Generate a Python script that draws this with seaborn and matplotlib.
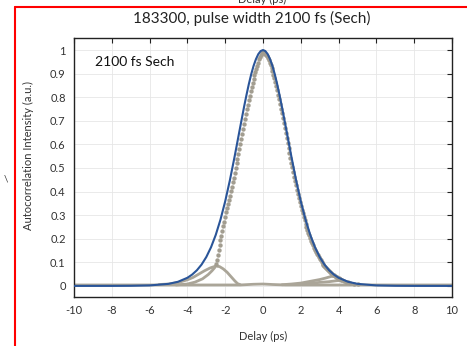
import matplotlib
matplotlib.use('Agg')
import matplotlib.pyplot as plt
import seaborn as sns
from matplotlib.lines import Line2D

# ---------------- data ----------------
title = "183300, pulse width 2100 fs (Sech)"
annotation = "2100 fs Sech"
x_label = "Delay (ps)"
y_label = "Autocorrelation Intensity (a.u.)"
x_ticks = [-10, -8, -6, -4, -2, 0, 2, 4, 6, 8, 10]
y_ticks = [0, 0.1, 0.2, 0.3, 0.4, 0.5, 0.6, 0.7, 0.8, 0.9, 1]
y_tick_labels = ["0", "0.1", "0.2", "0.3", "0.4", "0.5", "0.6", "0.7", "0.8", "0.9", "1"]

# Sech^2 fit curve (blue)
fit_x = [-10, -8, -7, -6, -5, -4.5, -4, -3.75, -3.5, -3.25, -3, -2.75, -2.5, -2.25,
         -2, -1.75, -1.5, -1.25, -1, -0.875, -0.75, -0.625, -0.5, -0.375, -0.25, -0.125,
         0, 0.125, 0.25, 0.375, 0.5, 0.625, 0.75, 0.875, 1, 1.25, 1.5, 1.75, 2, 2.25,
         2.5, 2.75, 3, 3.25, 3.5, 3.75, 4, 4.5, 5, 6, 7, 8, 10]
fit_y = [0.0, 0.0001, 0.0005, 0.0021, 0.0087, 0.0175, 0.0345, 0.048, 0.0662, 0.0905,
         0.1225, 0.1639, 0.2163, 0.281, 0.3587, 0.4488, 0.5491, 0.655, 0.76, 0.809,
         0.8554, 0.897, 0.9326, 0.961, 0.9825, 0.9956, 1.0, 0.9956, 0.9825, 0.961,
         0.9326, 0.897, 0.8554, 0.809, 0.76, 0.655, 0.5491, 0.4488, 0.3587, 0.281,
         0.2163, 0.1639, 0.1225, 0.0905, 0.0662, 0.048, 0.0345, 0.0175, 0.0087,
         0.0021, 0.0005, 0.0001, 0.0]

# measured autocorrelation points, main sweep
meas_x = [-2.50, -2.45, -2.40, -2.35, -2.30, -2.25, -2.20, -2.15, -2.10, -2.05,
          -2.00, -1.95, -1.90, -1.85, -1.80, -1.75, -1.70, -1.65, -1.60, -1.55,
          -1.50, -1.45, -1.40, -1.35, -1.30, -1.25, -1.20, -1.15, -1.10, -1.05,
          -1.00, -0.95, -0.90, -0.85, -0.80, -0.75, -0.70, -0.65, -0.60, -0.55,
          -0.50, -0.45, -0.40, -0.35, -0.30, -0.25, -0.20, -0.15, -0.10, -0.05,
          0.00, 0.05, 0.10, 0.15, 0.20, 0.25, 0.30, 0.35, 0.40, 0.45,
          0.50, 0.55, 0.60, 0.65, 0.70, 0.75, 0.80, 0.85, 0.90, 0.95,
          1.00, 1.05, 1.10, 1.15, 1.20, 1.25, 1.30, 1.35, 1.40, 1.45,
          1.50, 1.55, 1.60, 1.65, 1.70, 1.75, 1.80, 1.85, 1.90, 1.95,
          2.00, 2.05, 2.10, 2.15, 2.20, 2.25, 2.30, 2.35, 2.40, 2.45,
          2.50, 2.55, 2.60, 2.65, 2.70, 2.75, 2.80, 2.85, 2.90, 2.95,
          3.00, 3.05, 3.10, 3.15, 3.20, 3.25, 3.30, 3.35, 3.40, 3.45,
          3.50, 3.55, 3.60, 3.65, 3.70, 3.75, 3.80, 3.85, 3.90, 3.95,
          4.00, 4.05, 4.10, 4.15, 4.20, 4.30, 4.40, 4.50, 4.60, 4.80, 5.00]
meas_y = [0.092, 0.110, 0.131, 0.152, 0.172, 0.193, 0.213, 0.233, 0.253, 0.273,
          0.293, 0.312, 0.330, 0.348, 0.365, 0.383, 0.402, 0.421, 0.440, 0.459,
          0.479, 0.499, 0.519, 0.540, 0.560, 0.581, 0.602, 0.623, 0.644, 0.666,
          0.687, 0.708, 0.728, 0.748, 0.768, 0.787, 0.806, 0.825, 0.843, 0.861,
          0.878, 0.894, 0.908, 0.921, 0.934, 0.947, 0.960, 0.972, 0.981, 0.987,
          0.990, 0.987, 0.984, 0.979, 0.973, 0.965, 0.957, 0.947, 0.935, 0.923,
          0.910, 0.896, 0.881, 0.865, 0.847, 0.829, 0.810, 0.791, 0.772, 0.752,
          0.732, 0.712, 0.691, 0.670, 0.648, 0.627, 0.606, 0.585, 0.564, 0.544,
          0.523, 0.503, 0.483, 0.463, 0.444, 0.426, 0.408, 0.390, 0.372, 0.355,
          0.339, 0.323, 0.307, 0.293, 0.278, 0.264, 0.251, 0.238, 0.226, 0.214,
          0.203, 0.192, 0.182, 0.172, 0.162, 0.153, 0.145, 0.137, 0.129, 0.121,
          0.114, 0.108, 0.101, 0.095, 0.090, 0.084, 0.079, 0.074, 0.070, 0.066,
          0.062, 0.058, 0.054, 0.051, 0.048, 0.045, 0.042, 0.039, 0.037, 0.034,
          0.032, 0.030, 0.028, 0.026, 0.024, 0.021, 0.018, 0.015, 0.013, 0.010, 0.008]

# other sweeps (dense, appear as bands)
base_x = [-10, -6, -3, -1.2, -0.5, 0, 0.5, 1.2, 5, 10]
base_y = [0.004, 0.004, 0.004, 0.004, 0.007, 0.008, 0.006, 0.004, 0.004, 0.004]
humpA_x = [-5.5, -5.0, -4.5, -4.0, -3.7, -3.4, -3.1, -2.8, -2.5, -2.3, -2.1, -1.9, -1.7, -1.5, -1.35, -1.2]
humpA_y = [0.006, 0.008, 0.014, 0.026, 0.036, 0.050, 0.064, 0.076, 0.084, 0.082, 0.072, 0.058, 0.040, 0.022, 0.010, 0.005]
humpB_x = [-4.6, -4.0, -3.6, -3.2, -2.9, -2.7, -2.55]
humpB_y = [0.004, 0.008, 0.016, 0.030, 0.048, 0.064, 0.078]
humpC_x = [1.0, 1.5, 2.0, 2.6, 3.0, 3.3, 3.6, 3.8]
humpC_y = [0.005, 0.008, 0.012, 0.021, 0.027, 0.033, 0.040, 0.042]
humpD_x = [1.8, 2.5, 3.0, 3.5, 3.9, 4.2]
humpD_y = [0.006, 0.011, 0.015, 0.018, 0.022, 0.024]

# ---------------- style ----------------
sns.set_style("white")
plt.rcParams['font.family'] = ['Lato', 'DejaVu Sans']
plt.rcParams['axes.unicode_minus'] = False

GRAY = "#aaa598"
DOT = "#a29d90"
BLUE = "#2a5599"
TXT = "#333333"

W, H = 467, 346
fig = plt.figure(figsize=(W / 100, H / 100), dpi=100)
ax = fig.add_axes([74 / W, 1 - 297 / H, (452 - 74) / W, (297 - 38) / H])

for xs, ys in [(base_x, base_y), (humpA_x, humpA_y), (humpB_x, humpB_y),
               (humpC_x, humpC_y), (humpD_x, humpD_y)]:
    sns.lineplot(x=xs, y=ys, sort=False, estimator=None, color=GRAY, lw=2.0, ax=ax)

sns.scatterplot(x=meas_x, y=meas_y, color=DOT, s=10, linewidth=0, ax=ax, zorder=3)
sns.lineplot(x=fit_x, y=fit_y, sort=False, estimator=None, color=BLUE, lw=1.5, ax=ax, zorder=4)

ax.set_xlim(-10, 10)
ax.set_ylim(-0.047, 1.051)
ax.set_xticks(x_ticks)
ax.set_xticklabels([str(t) for t in x_ticks])
ax.set_yticks(y_ticks)
ax.set_yticklabels(y_tick_labels)
ax.tick_params(direction='in', top=True, right=True, length=3.5, width=0.8,
               labelsize=8, labelcolor=TXT, color="#222222", pad=6)
ax.grid(True, color="#e6e6e6", lw=0.6)
for sp in ax.spines.values():
    sp.set_visible(True)
    sp.set_color("#222222")
    sp.set_linewidth(1.0)
ax.set_xlabel("")
ax.set_ylabel("")

ax.text(-8.9, 0.95, annotation, fontsize=10, color="#111111", va='center', ha='left')
fig.text(252 / W, 1 - 18 / H, title, fontsize=11, color="#222222", ha='center', va='center')
fig.text(263 / W, 1 - 336 / H, x_label, fontsize=8, color=TXT, ha='center', va='center')
fig.text(28 / W, 1 - 156 / H, y_label, fontsize=8, color=TXT, ha='center', va='center', rotation=90)
fig.text(262 / W, 1 + 1 / H, x_label, fontsize=8, color=TXT, ha='center', va='center')
fig.text(6 / W, 1 - 179 / H, "\\", fontsize=7, color="#333333", ha='center', va='center')

fig.add_artist(Line2D([15 / W, 15 / W], [0, 1 - 7 / H], color="red", lw=1.5, transform=fig.transFigure))
fig.add_artist(Line2D([15 / W, 1], [1 - 7 / H, 1 - 7 / H], color="red", lw=1.5, transform=fig.transFigure))

fig.savefig("out.png", dpi=100)
